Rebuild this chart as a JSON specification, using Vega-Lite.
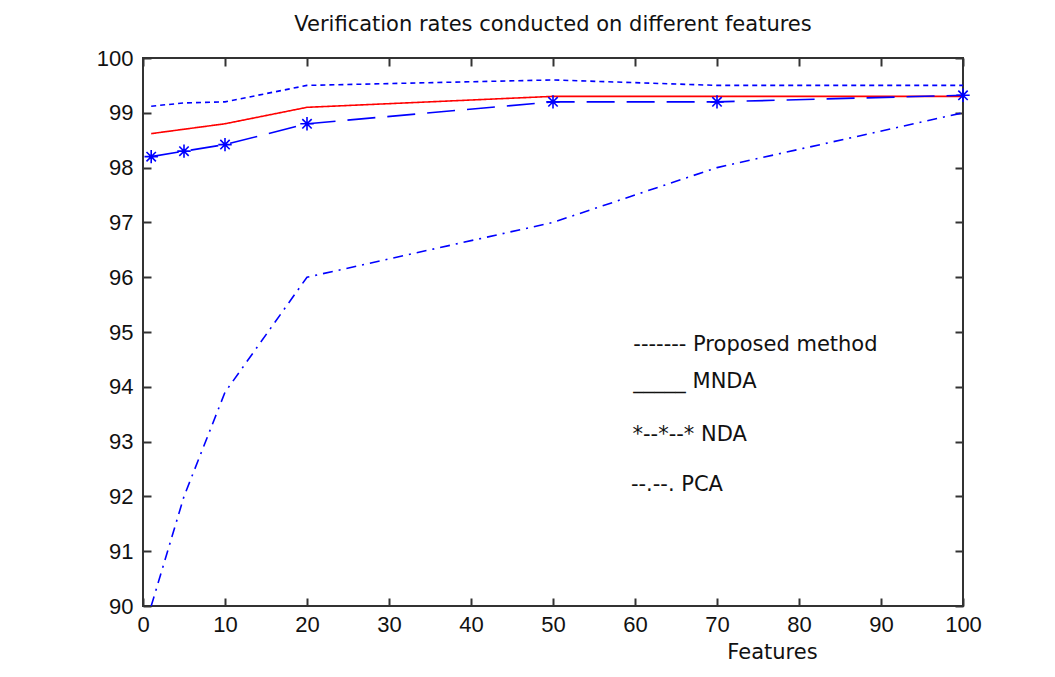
{
  "$schema": "https://vega.github.io/schema/vega-lite/v6.json",
  "autosize": {"type": "none"},
  "padding": {"left": 143, "top": 58, "right": 92, "bottom": 71},
  "width": 820,
  "height": 548,
  "background": "white",
  "title": {
    "text": "Verification rates conducted on different features",
    "font": "DejaVu Sans",
    "fontSize": 21,
    "fontWeight": "normal",
    "color": "#111",
    "anchor": "middle",
    "offset": 12
  },
  "datasets": {
    "rates": [
      {"method": "Proposed method", "features": 1, "rate": 99.12},
      {"method": "Proposed method", "features": 5, "rate": 99.18},
      {"method": "Proposed method", "features": 10, "rate": 99.2},
      {"method": "Proposed method", "features": 20, "rate": 99.5},
      {"method": "Proposed method", "features": 50, "rate": 99.6},
      {"method": "Proposed method", "features": 70, "rate": 99.5},
      {"method": "Proposed method", "features": 100, "rate": 99.5},
      {"method": "MNDA", "features": 1, "rate": 98.62},
      {"method": "MNDA", "features": 5, "rate": 98.7},
      {"method": "MNDA", "features": 10, "rate": 98.8},
      {"method": "MNDA", "features": 20, "rate": 99.1},
      {"method": "MNDA", "features": 50, "rate": 99.3},
      {"method": "MNDA", "features": 70, "rate": 99.3},
      {"method": "MNDA", "features": 100, "rate": 99.3},
      {"method": "NDA", "features": 1, "rate": 98.2},
      {"method": "NDA", "features": 5, "rate": 98.3},
      {"method": "NDA", "features": 10, "rate": 98.42},
      {"method": "NDA", "features": 20, "rate": 98.8},
      {"method": "NDA", "features": 50, "rate": 99.2},
      {"method": "NDA", "features": 70, "rate": 99.2},
      {"method": "NDA", "features": 100, "rate": 99.32},
      {"method": "PCA", "features": 1, "rate": 90.0},
      {"method": "PCA", "features": 5, "rate": 92.0},
      {"method": "PCA", "features": 10, "rate": 93.9},
      {"method": "PCA", "features": 20, "rate": 96.0},
      {"method": "PCA", "features": 50, "rate": 97.0},
      {"method": "PCA", "features": 70, "rate": 98.0},
      {"method": "PCA", "features": 100, "rate": 99.0}
    ],
    "notes": [
      {"label": "------- Proposed method", "features": 59.8, "rate": 94.76},
      {"label": "_____ MNDA", "features": 59.8, "rate": 94.09},
      {"label": "*--*--* NDA", "features": 59.7, "rate": 93.12},
      {"label": "--.--. PCA", "features": 59.5, "rate": 92.21}
    ]
  },
  "config": {
    "view": {"stroke": "#333", "strokeWidth": 2},
    "axis": {
      "grid": false,
      "domain": false,
      "labelFlush": false,
      "tickColor": "#333",
      "tickWidth": 2,
      "tickSize": -8,
      "labelFont": "Liberation Sans",
      "labelFontSize": 22,
      "labelColor": "#111",
      "titleFont": "DejaVu Sans",
      "titleFontSize": 21,
      "titleFontWeight": "normal",
      "titleColor": "#111"
    }
  },
  "resolve": {"axis": {"x": "independent", "y": "independent"}},
  "layer": [
    {
      "data": {"name": "rates"},
      "mark": {"type": "line", "strokeWidth": 1.6, "clip": true},
      "encoding": {
        "x": {
          "field": "features",
          "type": "quantitative",
          "scale": {"domain": [0, 100], "nice": false, "zero": false},
          "axis": {
            "orient": "bottom",
            "values": [0, 10, 20, 30, 40, 50, 60, 70, 80, 90, 100],
            "labelPadding": 16,
            "labelFlush": false,
            "title": "Features",
            "titleX": 629,
            "titleY": 52,
            "titleAlign": "center",
            "titleBaseline": "alphabetic"
          }
        },
        "y": {
          "field": "rate",
          "type": "quantitative",
          "scale": {"domain": [90, 100], "nice": false, "zero": false},
          "axis": {
            "orient": "left",
            "values": [90, 91, 92, 93, 94, 95, 96, 97, 98, 99, 100],
            "labelPadding": 18,
            "labelFlush": false,
            "title": null
          }
        },
        "color": {
          "field": "method",
          "type": "nominal",
          "scale": {"domain": ["Proposed method", "MNDA", "NDA", "PCA"], "range": ["#0000ff", "#ff0000", "#0000ff", "#0000ff"]},
          "legend": null
        },
        "strokeDash": {
          "field": "method",
          "type": "nominal",
          "scale": {"domain": ["Proposed method", "MNDA", "NDA", "PCA"], "range": [[5, 4], [1, 0], [28, 12], [10, 6, 2, 6]]},
          "legend": null
        }
      }
    },
    {
      "data": {"name": "rates"},
      "transform": [{"filter": "datum.method === 'NDA'"}],
      "mark": {
        "type": "point",
        "shape": "M-1,0L1,0M0,-1L0,1M-0.7,-0.7L0.7,0.7M-0.7,0.7L0.7,-0.7",
        "filled": false,
        "size": 180,
        "strokeWidth": 1.6,
        "color": "#0000ff",
        "opacity": 1,
        "clip": false
      },
      "encoding": {
        "x": {
          "field": "features",
          "type": "quantitative",
          "axis": {"orient": "top", "labels": false, "title": null, "values": [0, 10, 20, 30, 40, 50, 60, 70, 80, 90, 100]}
        },
        "y": {
          "field": "rate",
          "type": "quantitative",
          "axis": {"orient": "right", "labels": false, "title": null, "values": [90, 91, 92, 93, 94, 95, 96, 97, 98, 99, 100]}
        }
      }
    },
    {
      "data": {"name": "notes"},
      "mark": {"type": "text", "align": "left", "baseline": "middle", "font": "DejaVu Sans", "fontSize": 21, "color": "#111"},
      "encoding": {
        "x": {"field": "features", "type": "quantitative", "axis": null},
        "y": {"field": "rate", "type": "quantitative", "axis": null},
        "text": {"field": "label"}
      }
    }
  ]
}
